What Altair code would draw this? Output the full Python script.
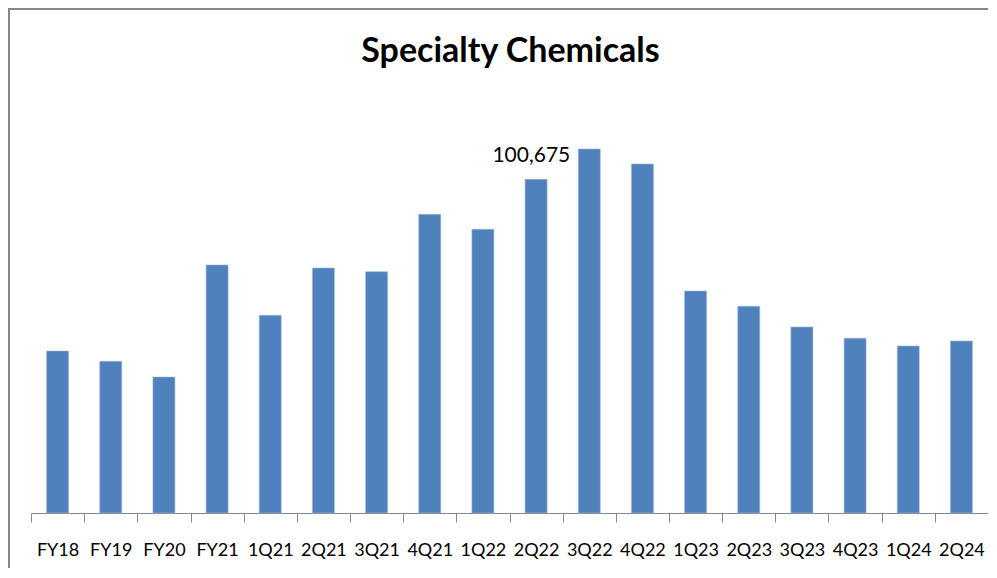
import altair as alt
import pandas as pd

categories = ["FY18", "FY19", "FY20", "FY21", "1Q21", "2Q21", "3Q21", "4Q21", "1Q22",
              "2Q22", "3Q22", "4Q22", "1Q23", "2Q23", "3Q23", "4Q23", "1Q24", "2Q24"]
values = [44800, 41960, 37600, 68600, 54680, 67760, 66740, 82600, 78470,
          92300, 100675, 96530, 61400, 57170, 51450, 48320, 46190, 47570]
label_category = "3Q22"
label_text = "100,675"
title_text = "Specialty Chemicals"

FONT = "Lato, DejaVu Sans Condensed, sans-serif"
BAR = "#4F81BD"
GRAY = "#868686"

df = pd.DataFrame({"cat": categories, "val": values})
lab = pd.DataFrame({"cat": [label_category], "val": [values[categories.index(label_category)]], "t": [label_text]})
one = pd.DataFrame({"k": [0]})

W, H = 957, 413
ymax = H * 100675 / 364

x = alt.X("cat:N", sort=categories, title=None,
          scale=alt.Scale(paddingInner=0, paddingOuter=0),
          axis=alt.Axis(labelAngle=0, labelFont=FONT, labelFontSize=18, labelColor="#000000",
                        labelBaseline="alphabetic", labelPadding=33, tickSize=9,
                        tickColor=GRAY, domainColor=GRAY, tickBand="extent",
                        domainWidth=1, tickWidth=1, grid=False))
y = alt.Y("val:Q", scale=alt.Scale(domain=[0, ymax], nice=False), axis=None)

bars = alt.Chart(df).mark_bar(color=BAR, size=22, stroke="#9DB6DA", strokeWidth=0.6).encode(x=x, y=y)

label = alt.Chart(lab).mark_text(font=FONT, fontSize=21, color="#000000", align="right",
                                 baseline="alphabetic", dx=-19, dy=13).encode(
    x=alt.X("cat:N", sort=categories), y=y, text="t:N")

title = alt.Chart(one).mark_text(font=FONT, fontSize=34, fontWeight="bold", color="#000000",
                                 align="center", baseline="alphabetic", text=title_text).encode(
    x=alt.value(W / 2 + 1), y=alt.value(-38))

left_border = alt.Chart(one).mark_rule(color=GRAY, strokeWidth=2).encode(
    x=alt.value(-22), y=alt.value(-91), y2=alt.value(H + 60))
top_border = alt.Chart(one).mark_rule(color=GRAY, strokeWidth=2).encode(
    x=alt.value(-23), x2=alt.value(W), y=alt.value(-91))

chart = alt.layer(bars, label, title, left_border, top_border).properties(
    width=W, height=H,
    autosize="none",
    padding={"left": 23, "top": 92, "right": 0, "bottom": 55},
    background="white",
).configure_view(strokeWidth=0, strokeOpacity=0)

chart.save("out.html", embed_options={"renderer": "svg", "actions": False})
